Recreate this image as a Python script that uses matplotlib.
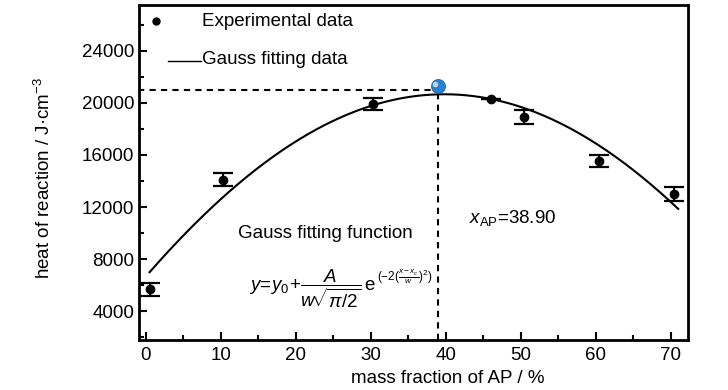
import numpy as np
import matplotlib
matplotlib.use("Agg")
import matplotlib.pyplot as plt
from matplotlib.ticker import MultipleLocator
import matplotlib.transforms as mtransforms

fam = 'Liberation Sans'
plt.rcParams['font.family'] = [fam, 'DejaVu Sans']
plt.rcParams['mathtext.fontset'] = 'custom'
plt.rcParams['mathtext.rm'] = fam
plt.rcParams['mathtext.it'] = fam + ':italic'
plt.rcParams['mathtext.bf'] = fam + ':bold'

# experimental data
ap_fraction = [0.5, 10.3, 30.3, 46.0, 50.5, 60.5, 70.5]
heat = [5700, 14100, 19900, 20300, 18900, 15550, 13000]
heat_err = [500, 480, 450, 0, 520, 450, 520]

# Gauss fitting parameters
y0 = -100000.0
xc = 39.8
w = 160.4
A = 2.4256e7
fit_start, fit_end = 0.5, 71.0

# optimum point
opt_x = 38.9
opt_y = 21300
dash_y = 21000

fs = 13.5

fig = plt.figure(figsize=(7.28, 3.90), dpi=100)
ax = fig.add_axes([0.191, 0.128, 0.754, 0.859])

xf = np.linspace(fit_start, fit_end, 300)
yf = y0 + A / (w * np.sqrt(np.pi / 2)) * np.exp(-2 * ((xf - xc) / w) ** 2)
ax.plot(xf, yf, color='black', lw=1.5, zorder=2)

ax.errorbar(ap_fraction, heat, yerr=heat_err, fmt='o', color='black', ms=6,
            capsize=7, capthick=1.6, elinewidth=1.5, zorder=3)

ax.plot([-1, opt_x], [dash_y, dash_y], ls=(0, (3, 2.5)), color='black', lw=1.5, zorder=1)
ax.plot([opt_x, opt_x], [1800, dash_y], ls=(0, (3, 2.5)), color='black', lw=1.5, zorder=1)
ax.plot([opt_x], [opt_y], 'o', ms=10, color='#2a7fcf', mec='#1f5f9f', mew=0.6, zorder=4)
hl = mtransforms.offset_copy(ax.transData, fig=fig, x=-1.5, y=1.5, units='points')
ax.plot([opt_x], [opt_y], 'o', ms=4, color='#a8dcff', mec='none', transform=hl, zorder=5)

ax.set_xlim(-0.9, 72.3)
ax.set_ylim(1800, 27500)
ax.xaxis.set_major_locator(MultipleLocator(10))
ax.xaxis.set_minor_locator(MultipleLocator(5))
ax.yaxis.set_major_locator(MultipleLocator(4000))
ax.yaxis.set_minor_locator(MultipleLocator(2000))
ax.tick_params(which='both', direction='in', width=1.5, labelsize=fs)
ax.tick_params(axis='x', which='major', pad=5)
ax.tick_params(which='major', length=6)
ax.tick_params(which='minor', length=3.5)
for s in ax.spines.values():
    s.set_linewidth(2)

ax.set_xlabel('mass fraction of AP / %', fontsize=fs)
ax.xaxis.set_label_coords(0.563, -0.088)
ax.set_ylabel('heat of reaction / J·cm$^{-3}$', fontsize=fs)
ax.yaxis.set_label_coords(-0.155, 0.484)

# legend drawn manually
ax.plot([1.3], [26250], 'o', color='black', ms=5)
ax.text(7.5, 26250, 'Experimental data', fontsize=fs, va='center')
ax.plot([3.0, 7.4], [23200, 23200], color='black', lw=1)
ax.text(7.5, 23300, 'Gauss fitting data', fontsize=fs, va='center')

ax.text(24.0, 9950, 'Gauss fitting function', fontsize=fs, ha='center', va='center')
ax.text(43.1, 11150, r'$x_{\mathrm{AP}}$=38.90', fontsize=fs, va='center')

t1 = ax.text(13.8, 5750,
             r'$y\!=\!y_0\!+\!\dfrac{A}{w\!\sqrt{\pi/2}}\,\mathrm{e}$',
             fontsize=13.5, va='center')
fig.canvas.draw()
bb = t1.get_window_extent()
inv = ax.transData.inverted()
x_end, y_exp = inv.transform((bb.x1 + 1, (bb.y0 + bb.y1) / 2 + 3))
ax.text(x_end, y_exp, r'$(-2(\frac{x-x_c}{w})^2)$', fontsize=8.5,
        va='bottom', ha='left')

fig.savefig('out.png', dpi=100)
